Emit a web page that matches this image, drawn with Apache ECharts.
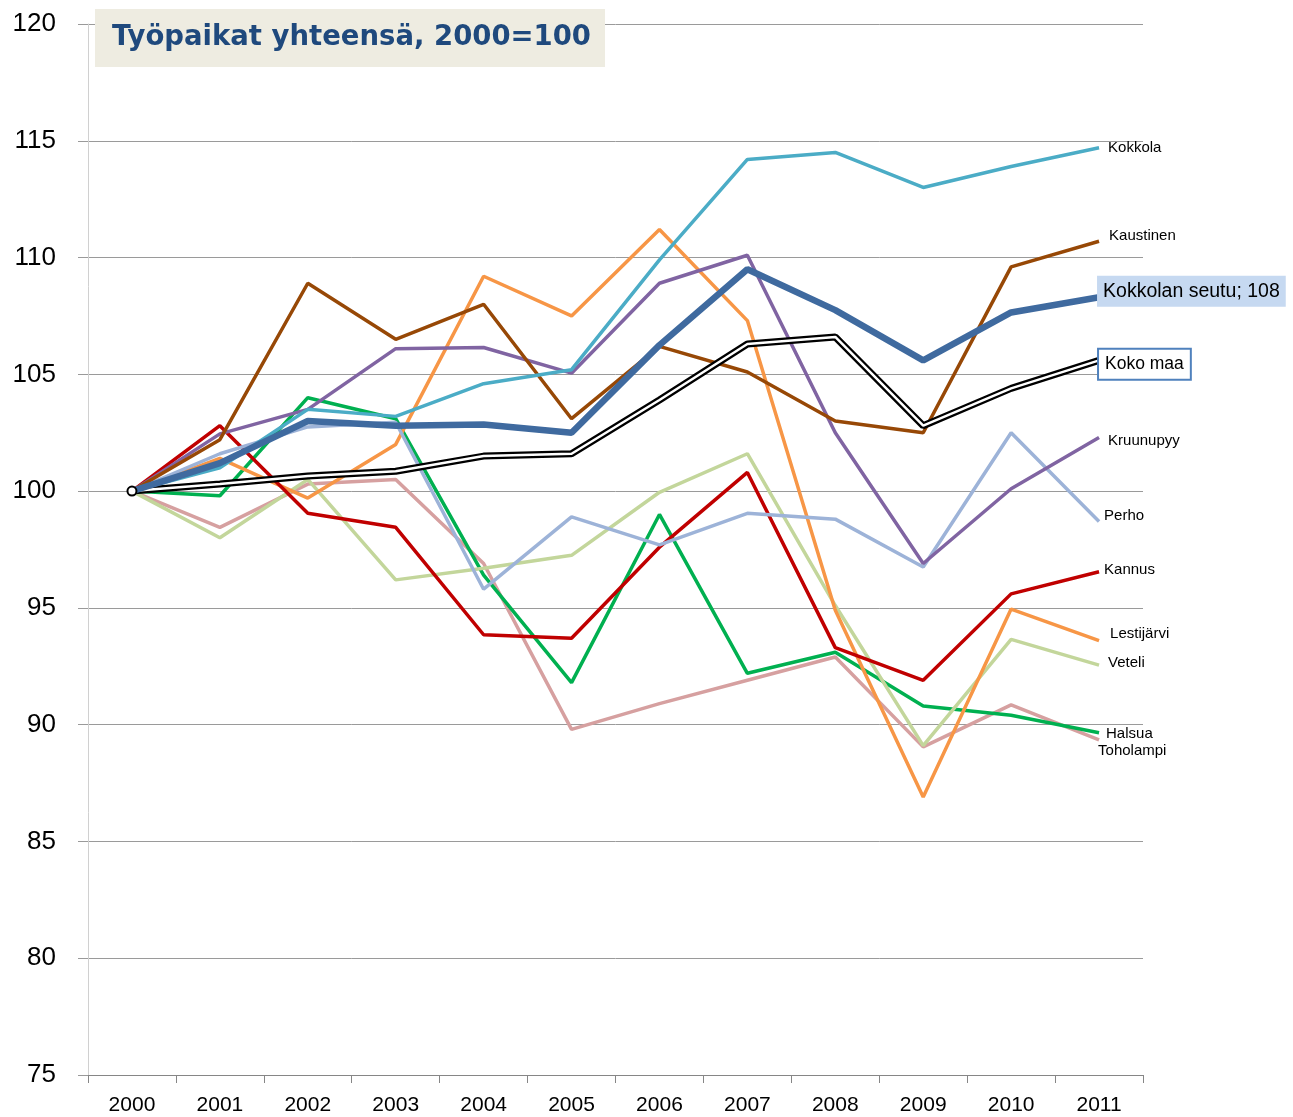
<!DOCTYPE html>
<html>
<head>
<meta charset="utf-8">
<script src="https://cdn.jsdelivr.net/npm/echarts@6/dist/echarts.min.js"></script>
<style>
  html, body { margin: 0; padding: 0; background: #fff; }
  #main { width: 1293px; height: 1117px; }
</style>
</head>
<body>
<div id="main"></div>
<script>
// years on the x axis
var years = ['2000', '2001', '2002', '2003', '2004', '2005', '2006', '2007', '2008', '2009', '2010', '2011'];

// index values, 2000 = 100
var kokkola       = [100, 101.0, 103.5, 103.2, 104.6, 105.2, 109.9, 114.2, 114.5, 113.0, 113.9, 114.7];
var kaustinen     = [100, 102.2, 108.9, 106.5, 108.0, 103.1, 106.2, 105.1, 103.0, 102.5, 109.6, 110.7];
var kokkolanSeutu = [100, 101.2, 103.0, 102.8, 102.85, 102.5, 106.25, 109.5, 107.75, 105.6, 107.65, 108.3];
var kokoMaa       = [100, 100.3, 100.65, 100.85, 101.5, 101.6, 103.9, 106.3, 106.6, 102.8, 104.4, 105.6];
var kruunupyy     = [100, 102.45, 103.5, 106.1, 106.15, 105.05, 108.9, 110.1, 102.5, 96.9, 100.1, 102.3];
var perho         = [100, 101.6, 102.75, 102.95, 95.8, 98.9, 97.7, 99.05, 98.8, 96.75, 102.5, 98.7];
var kannus        = [100, 102.8, 99.05, 98.45, 93.85, 93.7, 97.6, 100.8, 93.3, 91.9, 95.6, 96.55];
var lestijarvi    = [100, 101.4, 99.7, 102.0, 109.2, 107.5, 111.2, 107.3, 94.9, 86.9, 94.95, 93.6];
var veteli        = [100, 98.0, 100.5, 96.2, 96.7, 97.25, 99.95, 101.6, 95.1, 89.1, 93.65, 92.55];
var halsua        = [100, 99.8, 104.0, 103.1, 96.4, 91.8, 99.0, 92.2, 93.1, 90.8, 90.4, 89.65];
var toholampi     = [100, 98.45, 100.3, 100.5, 96.9, 89.8, 90.9, 91.9, 92.9, 89.05, 90.85, 89.35];

// y axis ticks
var yMin = 75, yMax = 120, yStep = 5;

var chart = echarts.init(document.getElementById('main'));

function line(name, data, color, width, offset, extra) {
    var s = {
        name: name,
        type: 'line',
        data: data,
        symbol: 'none',
        lineStyle: { color: color, width: width },
        itemStyle: { color: color },
        emphasis: { disabled: true },
        endLabel: {
            show: true,
            formatter: '{a}',
            color: '#000',
            fontFamily: 'Liberation Sans',
            fontSize: 15,
            distance: 8,
            offset: offset
        }
    };
    if (extra) {
        for (var k in extra) s.endLabel[k] = extra[k];
    }
    return s;
}

var kokoMaaLine = line('Koko maa', kokoMaa, '#000000', 7, [-8, 4], {
    fontSize: 17.5,
    backgroundColor: '#fff',
    borderColor: '#4f81bd',
    borderWidth: 2,
    padding: [6, 6, 5, 6]
});
// small round marker on the first point only
kokoMaaLine.symbol = function (v, p) { return p.dataIndex === 0 ? 'circle' : 'none'; };
kokoMaaLine.symbolSize = 9;
kokoMaaLine.showSymbol = true;
kokoMaaLine.itemStyle = { color: '#fff', borderColor: '#000', borderWidth: 2 };

var option = {
    animation: false,
    backgroundColor: '#fff',
    title: {
        text: 'Työpaikat yhteensä, 2000=100',
        left: 95,
        top: 9,
        backgroundColor: '#eeece1',
        padding: [14, 14, 14, 17],
        textStyle: {
            color: '#1f497d',
            fontFamily: 'DejaVu Sans',
            fontWeight: 'bold',
            fontSize: 27.5,
            lineHeight: 30
        }
    },
    grid: { left: 88, right: 150, top: 24, bottom: 42 },
    xAxis: {
        type: 'category',
        data: years,
        boundaryGap: true,
        axisLine: { lineStyle: { color: '#868686', width: 1 } },
        axisTick: { show: true, length: 8, lineStyle: { color: '#868686' } },
        axisLabel: { color: '#000', fontFamily: 'Liberation Sans', fontSize: 21, margin: 20 },
        splitLine: { show: false }
    },
    yAxis: {
        type: 'value',
        min: yMin,
        max: yMax,
        interval: yStep,
        axisLine: { show: true, lineStyle: { color: '#d0d0d0', width: 1 } },
        axisTick: { show: true, length: 10, lineStyle: { color: '#9a9a9a' } },
        axisLabel: { color: '#000', fontFamily: 'Liberation Sans', fontSize: 26, margin: 32 },
        splitLine: { lineStyle: { color: '#9a9a9a', width: 1 } }
    },
    series: [
        line('Toholampi', toholampi, '#d6a0a0', 3.5, [-9, 11]),
        line('Halsua', halsua, '#00b050', 3.5, [-1, 1]),
        line('Veteli', veteli, '#c3d69b', 3.5, [1, -2]),
        line('Lestijärvi', lestijarvi, '#f79646', 3.5, [3, -7]),
        line('Kannus', kannus, '#c00000', 3.5, [-3, -2]),
        line('Perho', perho, '#9db3d8', 3.5, [-3, -6]),
        line('Kruunupyy', kruunupyy, '#8064a2', 3.5, [1, 3]),
        line('Kaustinen', kaustinen, '#974806', 3.5, [2, -5]),
        line('Kokkola', kokkola, '#4bacc6', 3.5, [1, 0]),
        kokoMaaLine,
        {
            name: 'Koko maa (sisä)',
            type: 'line',
            data: kokoMaa,
            symbol: 'none',
            silent: true,
            lineStyle: { color: '#ffffff', width: 2.5 },
            emphasis: { disabled: true }
        },
        line('Kokkolan seutu', kokkolanSeutu, '#3f6a9f', 6.5, [-10, -6], {
            fontSize: 19.5,
            backgroundColor: '#c6d9f1',
            padding: [6, 6, 5, 6],
            formatter: function (p) { return p.seriesName + '; ' + Math.round(p.value); }
        })
    ]
};

chart.setOption(option);
</script>
</body>
</html>
